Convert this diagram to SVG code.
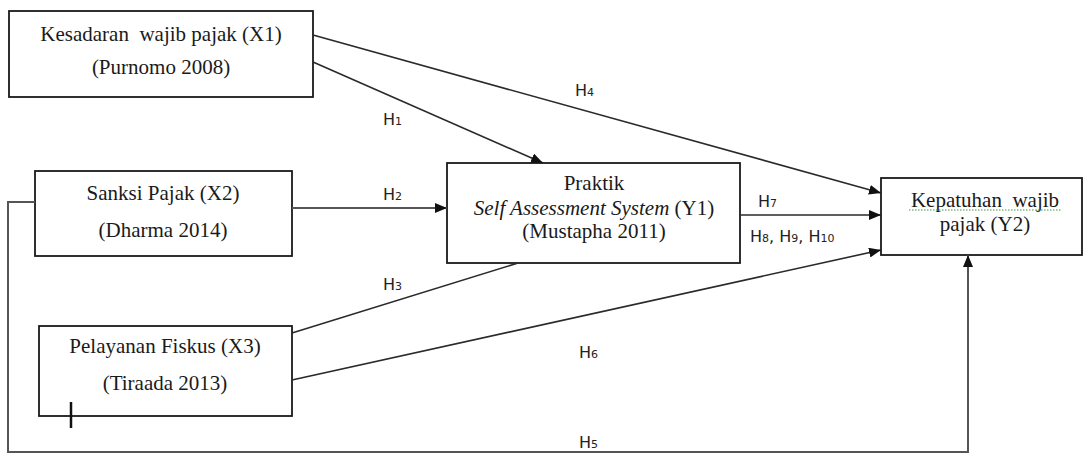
<svg xmlns="http://www.w3.org/2000/svg" width="1083" height="453" viewBox="0 0 1083 453">
<style>
.box{fill:#fff;stroke:#1a1a1a;stroke-width:1.8}
.t{font-family:"Liberation Serif","Times New Roman",serif;font-size:21px;fill:#1a1a1a;text-anchor:middle;white-space:pre}
.c{fill:none;stroke:#2a2a2a;stroke-width:1.6}
.g{fill:none;stroke:#555;stroke-width:2}
.h{font-family:"DejaVu Sans",Verdana,sans-serif;font-size:16px;fill:#222}
.s{font-size:11px}
</style>
<defs>
<marker id="ah" viewBox="0 0 12 10" refX="12" refY="5" markerWidth="12" markerHeight="10" markerUnits="userSpaceOnUse" orient="auto">
<path d="M0,0 L12,5 L0,10 Z" fill="#111"/>
</marker>
</defs>
<rect width="1083" height="453" fill="#fff"/>
<g id="x1">
<rect class="box" x="9" y="11" width="304" height="86"/>
<text class="t" x="161" y="41" xml:space="preserve">Kesadaran  wajib pajak (X1)</text>
<text class="t" x="161" y="74">(Purnomo 2008)</text>
</g>
<g id="x2">
<rect class="box" x="35" y="171" width="257" height="85"/>
<text class="t" x="163" y="200">Sanksi Pajak (X2)</text>
<text class="t" x="163" y="237">(Dharma 2014)</text>
</g>
<g id="x3">
<rect class="box" x="39" y="326" width="253" height="90"/>
<text class="t" x="165" y="353">Pelayanan Fiskus (X3)</text>
<text class="t" x="165" y="390">(Tiraada 2013)</text>
</g>
<g id="y1">
<rect class="box" x="447" y="163" width="293" height="100"/>
<text class="t" x="594" y="190">Praktik</text>
<text class="t" x="594" y="215"><tspan font-style="italic">Self Assessment System</tspan> (Y1)</text>
<text class="t" x="594" y="238">(Mustapha 2011)</text>
</g>
<g id="y2">
<rect class="box" x="881" y="178" width="201" height="77"/>
<text class="t" x="985" y="207" xml:space="preserve">Kepatuhan  wajib</text>
<line x1="909" y1="210" x2="1061" y2="210" stroke="#3a9a3a" stroke-width="1" stroke-dasharray="1.5,1.5"/>
<text class="t" x="985" y="231">pajak (Y2)</text>
</g>
<g id="connectors">
<line class="c" x1="313" y1="35" x2="881" y2="193" marker-end="url(#ah)"/>
<line class="c" x1="313" y1="62" x2="543" y2="163" marker-end="url(#ah)"/>
<line class="g" x1="292" y1="208" x2="447" y2="208" marker-end="url(#ah)"/>
<line class="c" x1="292" y1="333" x2="518" y2="263"/>
<line class="c" x1="740" y1="215" x2="881" y2="215" marker-end="url(#ah)"/>
<line class="c" x1="292" y1="380" x2="881" y2="250" marker-end="url(#ah)"/>
<polyline class="g" points="35,202 8,202 8,452 968,452 968,255" marker-end="url(#ah)"/>
<line x1="71" y1="402" x2="71" y2="428" stroke="#111" stroke-width="2.5"/>
<text class="h" x="575" y="96">H<tspan class="s">4</tspan></text>
<text class="h" x="383" y="125">H<tspan class="s">1</tspan></text>
<text class="h" x="383" y="200">H<tspan class="s">2</tspan></text>
<text class="h" x="383" y="290">H<tspan class="s">3</tspan></text>
<text class="h" x="758" y="207">H<tspan class="s">7</tspan></text>
<text class="h" x="750" y="242">H<tspan class="s">8</tspan>, H<tspan class="s">9</tspan>, H<tspan class="s">10</tspan></text>
<text class="h" x="579" y="358">H<tspan class="s">6</tspan></text>
<text class="h" x="579" y="448">H<tspan class="s">5</tspan></text>
</g>
</svg>
